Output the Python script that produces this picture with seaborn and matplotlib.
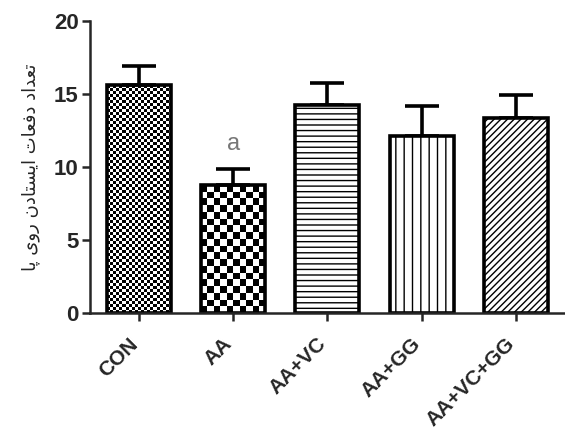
import matplotlib
matplotlib.use("Agg")
import matplotlib.pyplot as plt
import numpy as np
import pandas as pd
import seaborn as sns

# values
groups = ["CON", "AA", "AA+VC", "AA+GG", "AA+VC+GG"]
means = [15.6, 8.75, 14.25, 12.1, 13.35]
sems = [1.3, 1.1, 1.5, 2.05, 1.55]
ylabel_fa = "تعداد دفعات ایستادن روی پا"
sig_marks = ["", "a", "", "", ""]

# tiny persian shaper (matplotlib has no complex text layout)
FORMS = {
    "ت": ("\uFE95", "\uFE96", "\uFE97", "\uFE98"),
    "ع": ("\uFEC9", "\uFECA", "\uFECB", "\uFECC"),
    "د": ("\uFEA9", "\uFEAA", None, None),
    "ا": ("\uFE8D", "\uFE8E", None, None),
    "ف": ("\uFED1", "\uFED2", "\uFED3", "\uFED4"),
    "ی": ("\uFBFC", "\uFBFD", "\uFBFE", "\uFBFF"),
    "س": ("\uFEB1", "\uFEB2", "\uFEB3", "\uFEB4"),
    "ن": ("\uFEE5", "\uFEE6", "\uFEE7", "\uFEE8"),
    "ر": ("\uFEAD", "\uFEAE", None, None),
    "و": ("\uFEED", "\uFEEE", None, None),
    "پ": ("\uFB56", "\uFB57", "\uFB58", "\uFB59"),
}


def shape(text):
    out = []
    for i, ch in enumerate(text):
        if ch not in FORMS:
            out.append(ch)
            continue
        prev = text[i - 1] if i > 0 else " "
        nxt = text[i + 1] if i + 1 < len(text) else " "
        join_prev = prev in FORMS and FORMS[prev][2] is not None
        join_next = nxt in FORMS and FORMS[ch][2] is not None
        iso, fin, ini, med = FORMS[ch]
        if join_prev and join_next:
            out.append(med)
        elif join_prev:
            out.append(fin)
        elif join_next:
            out.append(ini)
        else:
            out.append(iso)
    return "".join(out)[::-1]


sns.set_style("ticks")
plt.rcParams["font.family"] = ["Liberation Sans", "DejaVu Sans"]
plt.rcParams["hatch.linewidth"] = 1.0

df = pd.DataFrame({"group": groups, "mean": means, "sem": sems})

fig = plt.figure(figsize=(5.65, 4.34), dpi=100)
ax = fig.add_axes([0.159, 0.279, 0.841, 0.673])

sns.barplot(data=df, x="group", y="mean", color="white", edgecolor="black",
            linewidth=2.6, width=0.68, errorbar=None, saturation=1, ax=ax)

ax.errorbar(x=np.arange(len(groups)), y=means, yerr=[np.zeros(len(groups)), sems],
            fmt="none", ecolor="black", elinewidth=2.6, capsize=12.5, capthick=2.6,
            zorder=0.8)

ax.set_ylim(0, 20)
ax.set_xlim(-0.52, 4.52)
ax.set_yticks([0, 5, 10, 15, 20])

# fill patterns
bars = ax.patches[:len(groups)]


def checker(patch, cell_px):
    x0, y0 = patch.get_x(), patch.get_y()
    w, h = patch.get_width(), patch.get_height()
    p0 = ax.transData.transform((x0, y0))
    p1 = ax.transData.transform((x0 + w, y0 + h))
    nx = max(1, int(round((p1[0] - p0[0]) / cell_px)))
    ny = max(1, int(round((p1[1] - p0[1]) / cell_px)))
    img = np.add.outer(np.arange(ny), np.arange(nx)) % 2
    im = ax.imshow(img, cmap="gray", extent=(x0, x0 + w, y0, y0 + h),
                   aspect="auto", interpolation="nearest", zorder=0.5)
    im.set_clip_path(patch)
    patch.set_facecolor("none")


checker(bars[0], 3.0)
checker(bars[1], 6.6)
bars[2].set_hatch("---")
bars[3].set_hatch("||")
bars[4].set_hatch("/////")
for b in bars:
    b.set_zorder(1)
ax.set_xlim(-0.52, 4.52)
ax.set_ylim(0, 20)

for i, m in enumerate(sig_marks):
    if m:
        ax.text(i, means[i] + sems[i] + 1.75, m, ha="center", va="center",
                fontsize=17, color="#777777")

sns.despine(ax=ax)
ax.spines["left"].set_linewidth(1.8)
ax.spines["bottom"].set_linewidth(1.8)
ax.tick_params(axis="both", width=1.8, length=6, labelsize=16, pad=2)
ax.tick_params(axis="x", pad=17)
for lab in ax.get_yticklabels():
    lab.set_fontweight("bold")
ax.set_xticks(range(len(groups)))
ax.set_xticklabels(groups, rotation=45, ha="right", va="baseline",
                   rotation_mode="anchor", fontweight="bold", fontsize=15)

ax.set_xlabel("")
ax.set_ylabel(shape(ylabel_fa), fontsize=13, family=["DejaVu Sans"], labelpad=10)

fig.savefig("out.png", dpi=100)
